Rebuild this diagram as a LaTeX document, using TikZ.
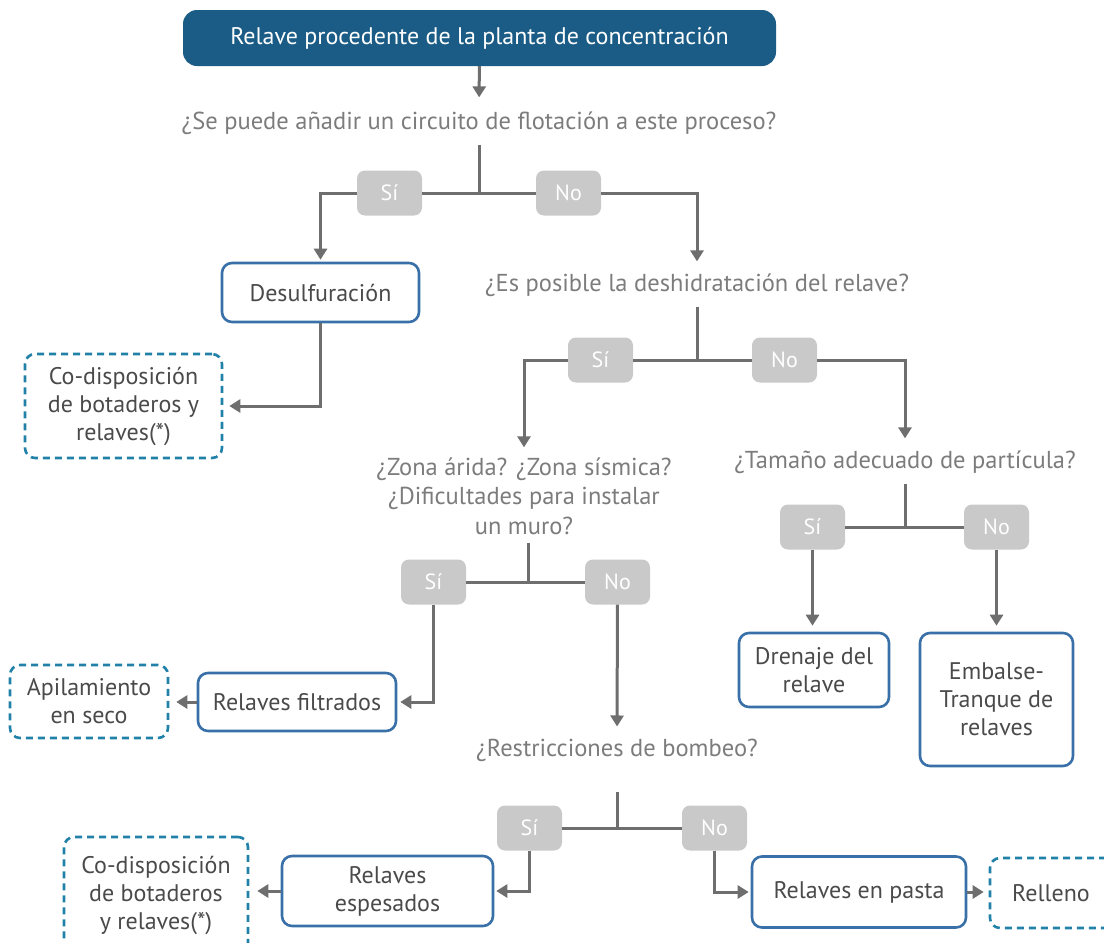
\documentclass[tikz,border=0pt]{standalone}
\usepackage{fontspec}
\setmainfont{PT Sans}
\usetikzlibrary{arrows.meta}
\definecolor{topblue}{HTML}{1B5C86}
\definecolor{boxblue}{HTML}{3A70A8}
\definecolor{dashblue}{HTML}{2181A8}
\definecolor{linegray}{HTML}{6E6E6E}
\definecolor{yngray}{HTML}{C9C9C9}
\definecolor{qgray}{HTML}{7C7C7C}
\definecolor{txtgray}{HTML}{4A4A4A}
\begin{document}
\begin{tikzpicture}[x=1pt,y=-1pt,
  ttl/.style={fill=topblue,rounded corners=14pt,text=white,inner sep=0pt,
    minimum width=593pt,minimum height=56pt,font=\fontsize{24}{28}\selectfont},
  quest/.style={text=qgray,inner sep=0pt,align=center,
    font=\fontsize{24.5}{29.5}\selectfont},
  yn/.style={fill=yngray,text=white,rounded corners=8pt,inner sep=0pt,
    minimum width=65pt,minimum height=45pt,font=\fontsize{22}{24}\selectfont},
  proc/.style={draw=boxblue,line width=2.6pt,rounded corners=10pt,text=txtgray,
    inner sep=0pt,align=center,font=\fontsize{24}{28}\selectfont},
  outc/.style={draw=dashblue,line width=2.6pt,dash pattern=on 7pt off 5pt,
    rounded corners=10pt,text=txtgray,inner sep=0pt,align=center,
    font=\fontsize{24}{28}\selectfont},
  link/.style={draw=linegray,line width=3pt},
  arr/.style={link,-{Triangle[width=13pt,length=11pt]}}
]
\useasboundingbox (0,0) rectangle (1104,943);
\clip (0,0) rectangle (1104,943);

% ---- nodes ----
\node[ttl] (top) at (479.5,38) {Relave procedente de la planta de concentración};
\node[quest] (q1) at (479,123) {¿Se puede añadir un circuito de flotación a este proceso?};
\coordinate (j1) at (479,193);
\node[yn] (si1) at (389.5,193) {Sí};
\node[yn] (no1) at (568.5,193) {No};

\node[proc,minimum width=197pt,minimum height=59pt] (desulf) at (320.5,292.5) {Desulfuración};
\node[outc,minimum width=197pt,minimum height=104pt] (codisp1) at (123.5,406) {Co-disposición\\de botaderos y\\relaves(*)};

\node[quest] (q2) at (697,285) {¿Es posible la deshidratación del relave?};
\coordinate (j2) at (697,360);
\node[yn] (si2) at (600.5,360) {Sí};
\node[yn] (no2) at (784.5,360) {No};

\node[quest] (q3) at (524,496) {¿Zona árida? ¿Zona sísmica?\\¿Dificultades para instalar\\un muro?};
\coordinate (j3) at (528,582);
\node[yn] (si3) at (433.5,582) {Sí};
\node[yn] (no3) at (617.5,582) {No};

\node[proc,minimum width=198pt,minimum height=58pt] (filt) at (297,702) {Relaves filtrados};
\node[outc,minimum width=158pt,minimum height=73pt] (apil) at (89,701.5) {Apilamiento\\en seco};

\node[quest] (q4) at (905,462) {¿Tamaño adecuado de partícula?};
\coordinate (j4) at (905,527);
\node[yn] (si4) at (812.5,527) {Sí};
\node[yn] (no4) at (996.5,527) {No};

\node[proc,minimum width=150pt,minimum height=74pt] (dren) at (814,670) {Drenaje del\\relave};
\node[proc,minimum width=153pt,minimum height=133pt] (emb) at (996.5,699.5) {Embalse-\\Tranque de\\relaves};

\node[quest] (q5) at (617,750) {¿Restricciones de bombeo?};
\coordinate (j5) at (617,828);
\node[yn] (si5) at (529.5,828) {Sí};
\node[yn] (no5) at (714.5,828) {No};

\node[proc,minimum width=211pt,minimum height=70pt] (esp) at (387.5,891) {Relaves\\espesados};
\node[outc,minimum width=184pt,minimum height=116pt] (codisp2) at (156,895) {Co-disposición\\de botaderos\\y relaves(*)};
\node[proc,minimum width=214pt,minimum height=71pt] (pasta) at (859,892) {Relaves en pasta};
\node[outc,minimum width=150pt,minimum height=70pt] (relleno) at (1065,893) {\hspace*{-28pt}Relleno};

% ---- connectors ----
\draw[arr,shorten >=14pt] (top) -- (q1);
\draw[link] ([yshift=-10pt]q1.south) -- (j1);
\draw[link] (j1) -- (si1);
\draw[link] (j1) -- (no1);
\draw[arr,shorten >=2pt] (si1) -| (desulf);
\draw[arr,shorten >=12pt] (no1) -| (q2);
\draw[arr,shorten >=6pt] (desulf) |- (codisp1);

\draw[link] ([yshift=-10pt]q2.south) -- (j2);
\draw[link] (j2) -- (si2);
\draw[link] (j2) -- (no2);
\draw[arr,shorten >=10pt] (si2) -| (q3);
\draw[arr,shorten >=12pt] (no2) -| (q4);

\draw[link] ([yshift=-8pt]q3.south -| j3) -- (j3);
\draw[link] (j3) -- (si3);
\draw[link] (j3) -- (no3);
\draw[arr,shorten >=3pt] (si3) |- (filt);
\draw[arr,shorten >=12pt] (no3) -- (q5);
\draw[arr,shorten >=7pt] (filt.west) -- (filt.west -| apil.east);

\draw[link] ([yshift=-10pt]q4.south) -- (j4);
\draw[link] (j4) -- (si4);
\draw[link] (j4) -- (no4);
\draw[arr,shorten >=6pt] (si4) -- (si4 |- dren.north);
\draw[arr,shorten >=6pt] (no4) -- (no4 |- emb.north);

\draw[link] ([yshift=-30pt]q5.south) -- (j5);
\draw[link] (j5) -- (si5);
\draw[link] (j5) -- (no5);
\draw[arr,shorten >=2pt] (si5) |- (esp);
\draw[arr,shorten >=2pt] (no5) |- (pasta);
\draw[arr,shorten >=8pt] (esp.west) -- (esp.west -| codisp2.east);
\draw[arr,shorten >=5pt] (pasta.east) -- (pasta.east -| relleno.west);
\end{tikzpicture}
\end{document}
